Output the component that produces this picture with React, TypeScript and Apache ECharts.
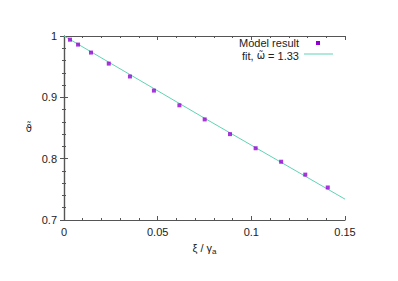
import React, { useEffect, useRef } from "react";
import * as echarts from "echarts";

const modelX = [0.0032, 0.0075, 0.0144, 0.0239, 0.0352, 0.048, 0.0616, 0.0751, 0.0886, 0.1023, 0.1159, 0.1288, 0.1408];
const modelY = [0.994, 0.986, 0.973, 0.955, 0.934, 0.911, 0.887, 0.864, 0.84, 0.817, 0.795, 0.774, 0.753];
const fitX = [0, 0.075, 0.15];
const fitY = [1, 0.866, 0.734];
const xTicks = ["0", "0.05", "0.1", "0.15"];
const yTicks = ["0.7", "0.8", "0.9", "1"];

const FONT = "Liberation Sans";
const SYM = "DejaVu Sans";
const AXIS = "#555";
const MARK = "#9400d3";
const FIT = "#5fd3b3";

export default function App() {
  const ref = useRef<HTMLDivElement>(null);
  useEffect(() => {
    const chart = echarts.init(ref.current!, null, { renderer: "svg" });
    const xFmt = (v: number) => {
      const i = Math.round(v / 0.05);
      return xTicks[i] ?? "";
    };
    const yFmt = (v: number) => {
      const i = Math.round((v - 0.7) / 0.1);
      return yTicks[i] ?? "";
    };
    const tickCommon = {
      axisLine: { show: true, lineStyle: { color: AXIS, width: 1.2 } },
      axisTick: { show: true, inside: true, length: 4, lineStyle: { color: AXIS } },
      minorTick: { show: true, splitNumber: 5, length: 2, lineStyle: { color: AXIS } },
      splitLine: { show: false },
    };
    chart.setOption({
      animation: false,
      grid: { left: 64, right: 53, top: 36, bottom: 61 },
      xAxis: [
        {
          type: "value", min: 0, max: 0.15, interval: 0.05, position: "bottom",
          ...tickCommon,
          axisLabel: { formatter: xFmt, color: "#222", fontFamily: FONT, fontSize: 11, margin: 6 },
          name: "{n|ξ / γ}{s|a}", nameLocation: "middle", nameGap: 21,
          nameTextStyle: {
            rich: {
              n: { fontFamily: FONT, fontSize: 11, color: "#222" },
              s: { fontFamily: FONT, fontSize: 8, color: "#222", verticalAlign: "bottom", padding: [6, 0, 0, 0] },
            },
          },
        },
        {
          type: "value", min: 0, max: 0.15, interval: 0.05, position: "top",
          ...tickCommon, axisLabel: { show: false },
        },
      ],
      yAxis: [
        {
          type: "value", min: 0.7, max: 1, interval: 0.1, position: "left",
          ...tickCommon,
          axisLabel: { formatter: yFmt, color: "#222", fontFamily: FONT, fontSize: 11, margin: 7 },
          name: "ϑ̃", nameLocation: "middle", nameGap: 32, nameRotate: 0,
          nameTextStyle: { fontFamily: SYM, fontSize: 10, color: "#222" },
        },
        {
          type: "value", min: 0.7, max: 1, interval: 0.1, position: "right",
          ...tickCommon, axisLabel: { show: false },
        },
      ],
      series: [
        {
          type: "line", name: "fit", data: fitX.map((x, i) => [x, fitY[i]]),
          showSymbol: false, symbol: "none", lineStyle: { color: FIT, width: 1 }, z: 2,
        },
        {
          type: "scatter", name: "Model result", data: modelX.map((x, i) => [x, modelY[i]]),
          symbol: "rect", symbolSize: 4, itemStyle: { color: MARK }, z: 3,
        },
      ],
      graphic: [
        { type: "text", right: 99, top: 37, style: { text: "Model result", font: `11px ${FONT}`, fill: "#222", align: "right" } },
        { type: "rect", shape: { x: 316, y: 41, width: 4, height: 4 }, style: { fill: MARK } },
        {
          type: "text", right: 99, top: 50,
          style: {
            text: "{a|fit, }{b|ω̃}{a| = 1.33}", align: "right",
            rich: {
              a: { fontFamily: FONT, fontSize: 11, fill: "#222" },
              b: { fontFamily: SYM, fontSize: 10, fill: "#222" },
            },
          },
        },
        { type: "line", shape: { x1: 304, y1: 54, x2: 333, y2: 54 }, style: { stroke: FIT, lineWidth: 1 } },
      ],
    });
    return () => chart.dispose();
  }, []);
  return <div ref={ref} style={{ width: 398, height: 281, position: "absolute", left: 0, top: 0 }} />;
}
